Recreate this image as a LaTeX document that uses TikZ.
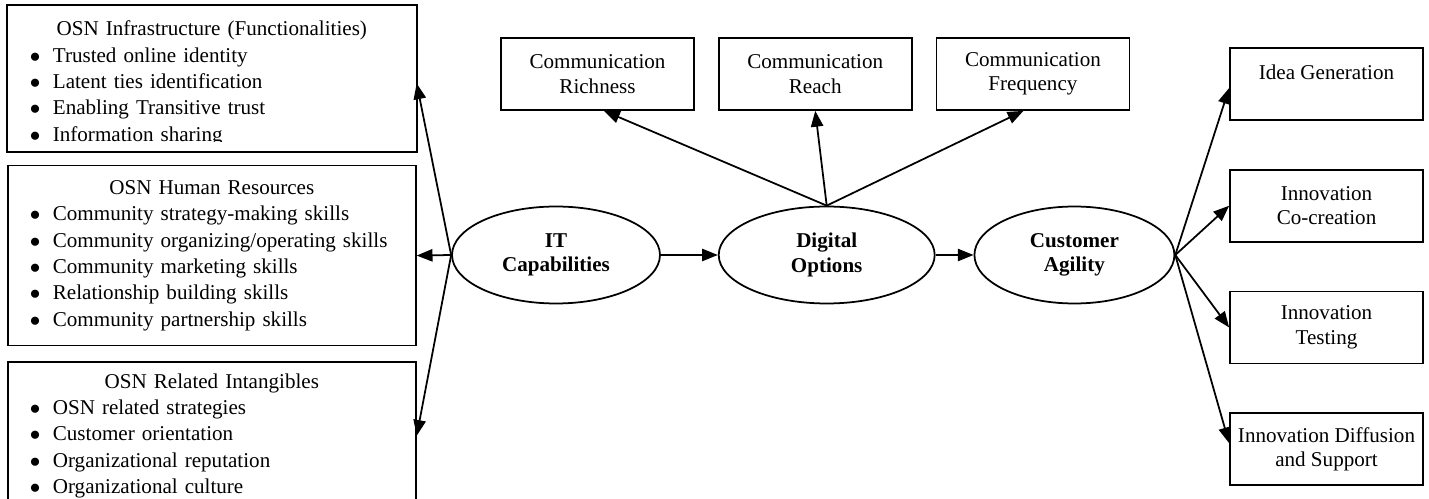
\documentclass[tikz,border=0pt]{standalone}
\usepackage{fontspec}
\setmainfont{Liberation Serif}
\usepackage{tikz}
\usetikzlibrary{shapes.geometric}
\usetikzlibrary{positioning}
\usetikzlibrary{arrows.meta}
\setlength{\parindent}{0pt}
\tikzset{listbox/.style={rectangle, inner sep=0pt, text width=8.16cm, align=left, anchor=north west, font=\fontsize{12}{15}\selectfont},
smallbox/.style={rectangle, draw, inner sep=0pt, minimum width=3.86cm, minimum height=1.44cm, align=center, font=\fontsize{12}{14}\selectfont},
construct/.style={ellipse, draw, inner sep=0pt, minimum height=1.94cm, align=center, font=\fontsize{12}{14}\selectfont\bfseries},
link/.style={-{Triangle[length=9pt,width=7pt]}}}
\newcommand{\osntitle}[1]{\makebox[\hsize]{#1}}
\newcommand{\osnitem}[1]{\hspace*{0.44cm}\makebox[0.46cm][l]{$\bullet$}#1}

\begin{document}
\begin{tikzpicture}[x=0.02cm, y=-0.02cm, line width=1pt]
\useasboundingbox (0,0) rectangle (1429,499);
\clip (0,0) rectangle (1429,499);

% resources on the left
\begin{scope}
\clip (0,0) rectangle (420,141.5);
\node (infra) [listbox, minimum height=3.1cm] at (7,5) {\osntitle{OSN Infrastructure (Functionalities)}\\ \osnitem{Trusted online identity}\\ \osnitem{Latent ties identification}\\ \osnitem{Enabling Transitive trust}\\ \osnitem{Information sharing}};
\end{scope}
\draw (infra.north west) rectangle ([yshift=0.2cm]infra.south east);
\node (hr) [listbox, draw, minimum height=3.6cm, below=0.06cm of infra] {\osntitle{OSN Human Resources}\\ \osnitem{Community strategy-making skills}\\ \osnitem{Community organizing/operating skills}\\ \osnitem{Community marketing skills}\\ \osnitem{Relationship building skills}\\ \osnitem{Community partnership skills}};
\node (intang) [listbox, draw, minimum height=2.94cm, below=0.3cm of hr] {\osntitle{OSN Related Intangibles}\\ \osnitem{OSN related strategies}\\ \osnitem{Customer orientation}\\ \osnitem{Organizational reputation}\\ \osnitem{Organizational culture}};

% constructs
\node (it) [construct, minimum width=4.16cm] at (556,255) {IT\\Capabilities};
\node (dig) [construct, minimum width=4.32cm, right=1.14cm of it] {Digital\\Options};
\node (agil) [construct, minimum width=4cm, right=0.76cm of dig] {Customer\\Agility};

% communication
\node (rich) [smallbox] at (597.5,74) {Communication\\Richness};
\node (reach) [smallbox, right=0.46cm of rich] {Communication\\Reach};
\node (freq) [smallbox, right=0.46cm of reach] {Communication\\Frequency};

% innovation
\node (idea) [smallbox] at (1326.5,84) {Idea Generation\\ \mbox{}};
\node (cocr) [smallbox, below=0.96cm of idea] {Innovation\\Co-creation};
\node (test) [smallbox, below=0.96cm of cocr] {Innovation\\Testing};
\node (diff) [smallbox, below=0.96cm of test] {Innovation Diffusion\\and Support};

\draw[link] (it) -- (dig);
\draw[link] (dig) -- (agil);
\draw[link] (dig.north) -- ([xshift=0.13cm]rich.south);
\draw[link] (dig.north) -- (reach.south);
\draw[link] (dig.north) -- ([xshift=-0.19cm]freq.south);
\draw[link] (it.west) -- (infra.east);
\draw[link] (it.west) -- (hr.east);
\draw[link] (it.west) -- (intang.east);
\draw[link] (agil.east) -- ([yshift=-0.08cm]idea.west);
\draw[link] (agil.east) -- (cocr.west);
\draw[link] (agil.east) -- (test.west);
\draw[link] (agil.east) -- ([yshift=0.12cm]diff.west);
\end{tikzpicture}
\end{document}
